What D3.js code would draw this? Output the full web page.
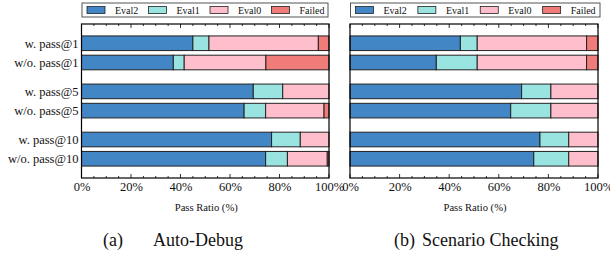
<!DOCTYPE html>
<html><head><meta charset="utf-8">
<script src="https://cdn.jsdelivr.net/npm/d3@7"></script>
<style>body{margin:0;background:#fff}svg{display:block}text{font-family:"Liberation Serif","Times New Roman",serif}</style>
</head><body>
<svg id="c" width="610" height="254"></svg>
<script>
const categories = ["w. pass@1","w/o. pass@1","w. pass@5","w/o. pass@5","w. pass@10","w/o. pass@10"];
const catPos = [1,2,3.5,4.5,6,7];
const seriesNames = ["Eval2","Eval1","Eval0","Failed"];
const colors = ["#4286c6","#99e3e0","#ffbecb","#f07c7a"];
// (a) Auto-Debug
const autoEval2 = [45.0, 37.1, 69.4, 65.7, 76.8, 74.4];
const autoEval1 = [6.5, 4.4, 11.9, 8.7, 11.6, 8.8];
const autoEval0 = [44.2, 33.0, 18.7, 23.6, 11.6, 16.1];
const autoFailed = [4.3, 25.5, 0.0, 2.0, 0.0, 0.7];
// (b) Scenario Checking
const scenEval2 = [44.5, 34.8, 69.2, 64.8, 76.6, 74.1];
const scenEval1 = [6.8, 16.5, 11.8, 16.2, 11.6, 14.1];
const scenEval0 = [44.1, 44.1, 19.0, 19.0, 11.8, 11.8];
const scenFailed = [4.6, 4.6, 0.0, 0.0, 0.0, 0.0];
const xTicks = [0,20,40,60,80,100];
const xLabel = "Pass Ratio (%)";
const captions = [["(a)","Auto-Debug"],["(b)","Scenario Checking"]];

const svg = d3.select("#c");

function panel(x0, x1, data, showY, legendX0, legendX1, cap, capPos) {
  const top = 24, bottom = 178;
  const x = d3.scaleLinear().domain([0,100]).range([x0, x1]);
  const y = d3.scaleLinear().domain([0,8]).range([top, bottom]);
  const bh = y(0.76) - y(0);
  const g = svg.append("g");
  categories.forEach((c, i) => {
    let acc = 0;
    data.forEach((s, k) => {
      const v = s[i];
      if (v <= 0) return;
      g.append("rect")
        .attr("x", x(acc)).attr("y", y(catPos[i]) - bh/2)
        .attr("width", x(acc + v) - x(acc)).attr("height", bh)
        .attr("fill", colors[k]).attr("stroke", "#222").attr("stroke-width", 1);
      acc += v;
    });
  });
  const minor = d3.range(0, 101, 5);
  minor.forEach(t => {
    const len = (t % 20 === 0) ? 4 : 2;
    g.append("line").attr("x1", x(t)).attr("x2", x(t)).attr("y1", bottom).attr("y2", bottom - len).attr("stroke", "#000").attr("stroke-width", 0.8);
    g.append("line").attr("x1", x(t)).attr("x2", x(t)).attr("y1", top).attr("y2", top + len).attr("stroke", "#000").attr("stroke-width", 0.8);
  });
  const ax = g.append("g").attr("transform", `translate(0,${bottom})`)
    .call(d3.axisBottom(x).tickValues(xTicks).tickFormat(d => d + "%").tickSize(0).tickPadding(4));
  ax.select(".domain").remove();
  ax.selectAll("text").attr("font-size", 12.5).attr("fill", "#111").style("font-family", "Liberation Serif");
  g.append("rect").attr("x", x0).attr("y", top).attr("width", x1 - x0).attr("height", bottom - top)
    .attr("fill", "none").attr("stroke", "#000").attr("stroke-width", 1.2);
  if (showY) {
    categories.forEach((c, i) => {
      g.append("text").attr("x", x0 - 3).attr("y", y(catPos[i])).attr("dy", "0.35em")
        .attr("text-anchor", "end").attr("font-size", 12.5).attr("fill", "#111").text(c);
    });
  }
  g.append("text").attr("x", (x0 + x1)/2 + 1).attr("y", 211).attr("text-anchor", "middle")
    .attr("font-size", 10.6).attr("fill", "#111").text(xLabel);
  const lg = svg.append("g");
  lg.append("rect").attr("x", legendX0).attr("y", 3).attr("width", legendX1 - legendX0).attr("height", 14)
    .attr("fill", "#fff").attr("stroke", "#555").attr("stroke-width", 1);
  const step = (legendX1 - legendX0) / 4;
  seriesNames.forEach((n, k) => {
    const px = legendX0 + 5 + k * step;
    lg.append("rect").attr("x", px).attr("y", 6.5).attr("width", 18).attr("height", 7)
      .attr("fill", colors[k]).attr("stroke", "#222").attr("stroke-width", 0.8);
    lg.append("text").attr("x", px + 28).attr("y", 10).attr("dy", "0.35em")
      .attr("font-size", 10).attr("fill", "#111").text(n);
  });
  svg.append("text").attr("x", capPos[0]).attr("y", 246).attr("font-size", 18).attr("fill", "#111").text(cap[0]);
  svg.append("text").attr("x", capPos[1]).attr("y", 246).attr("font-size", 18).attr("fill", "#111").text(cap[1]);
}

panel(81.5, 329, [autoEval2, autoEval1, autoEval0, autoFailed], true, 82, 328, captions[0], [103, 153]);
panel(350, 598, [scenEval2, scenEval1, scenEval0, scenFailed], false, 350.5, 600, captions[1], [394, 422]);
</script>
</body></html>
